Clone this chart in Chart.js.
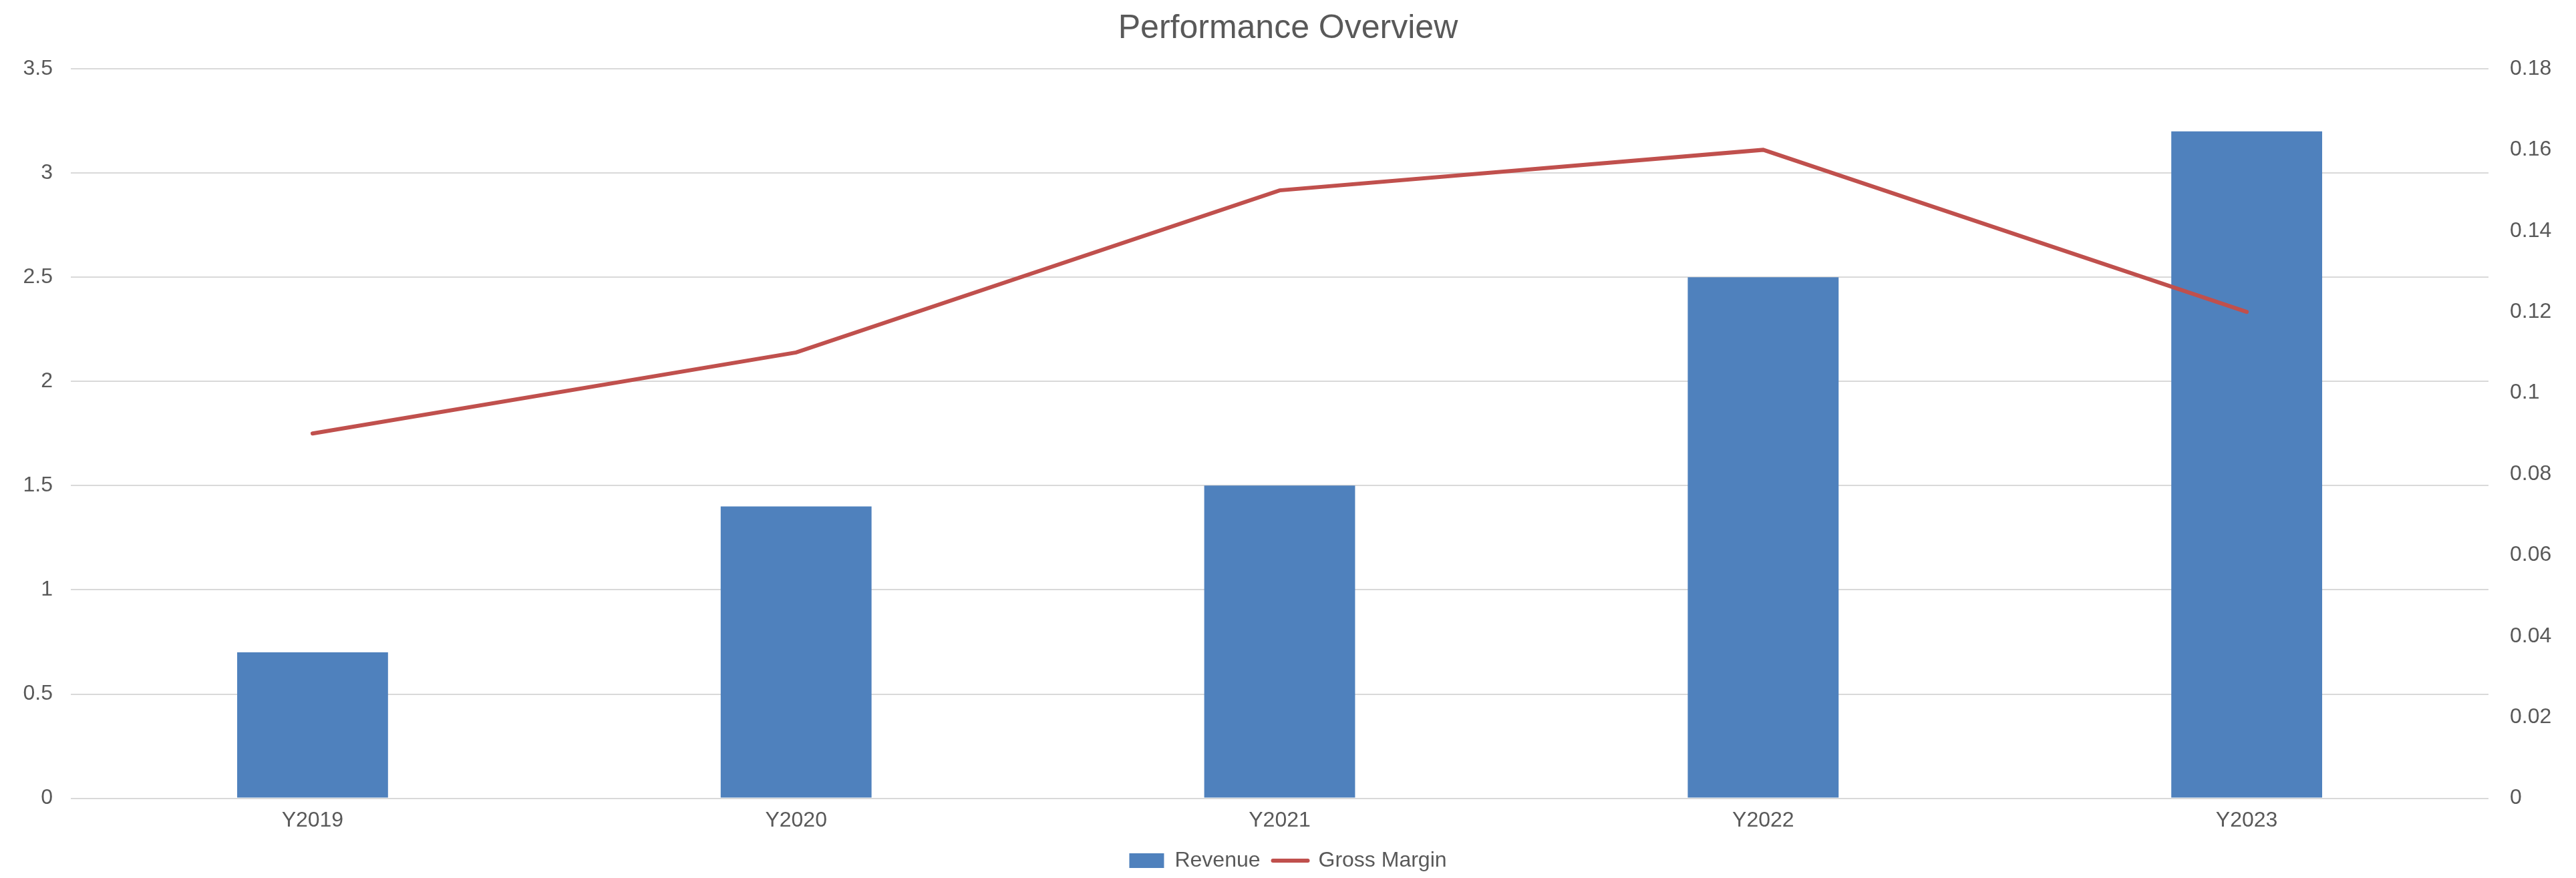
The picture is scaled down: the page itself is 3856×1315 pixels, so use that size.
<!DOCTYPE html>
<html>
<head>
<meta charset="utf-8">
<title>Performance Overview</title>
<script src="https://cdn.jsdelivr.net/npm/chart.js@4.4.1/dist/chart.umd.min.js"></script>
<style>
  html, body { margin: 0; padding: 0; background: #fff; }
  #wrap { width: 3856px; height: 1315px; }
</style>
</head>
<body>
<div id="wrap"><canvas id="chart" width="3856" height="1315"></canvas></div>
<script>
// данные графика
const years = ['Y2019', 'Y2020', 'Y2021', 'Y2022', 'Y2023'];
const revenue = [0.7, 1.4, 1.5, 2.5, 3.2];
const grossMargin = [0.09, 0.11, 0.15, 0.16, 0.12];

const textColor = '#595959';
const fontFamily = '"Liberation Sans", Arial, sans-serif';

const data = {
  labels: years,
  datasets: [{
    type: 'bar',
    label: 'Revenue',
    data: revenue,
    backgroundColor: '#4f81bd',
    borderWidth: 0,
    yAxisID: 'y',
    order: 1,
    categoryPercentage: 1,
    barPercentage: 0.312
  }, {
    type: 'line',
    label: 'Gross Margin',
    data: grossMargin,
    borderColor: '#c0504d',
    backgroundColor: '#c0504d',
    borderWidth: 6,
    borderCapStyle: 'round',
    pointRadius: 0,
    tension: 0,
    yAxisID: 'y1',
    order: 0
  }]
};

const config = {
  data: data,
  options: {
    responsive: false,
    animation: false,
    layout: { padding: { top: 13, bottom: 0, left: 0, right: 0 } },
    plugins: {
      title: {
        display: true,
        text: 'Performance Overview',
        color: textColor,
        font: { family: fontFamily, size: 50, weight: 'normal' },
        padding: { top: 0, bottom: 30 }
      },
      legend: {
        position: 'bottom',
        labels: {
          color: textColor,
          font: { family: fontFamily, size: 32, lineHeight: 1 },
          usePointStyle: true,
          pointStyleWidth: 52,
          boxHeight: 22,
          padding: 19,
          sort: (a, b) => a.datasetIndex - b.datasetIndex,
          generateLabels: function(chart) {
            return chart.data.datasets.map((ds, i) => ({
              text: ds.label,
              datasetIndex: i,
              fillStyle: ds.type === 'bar' ? ds.backgroundColor : ds.borderColor,
              strokeStyle: ds.type === 'bar' ? ds.backgroundColor : ds.borderColor,
              lineWidth: ds.type === 'bar' ? 0 : 6,
              lineCap: 'round',
              pointStyle: ds.type === 'bar' ? 'rect' : 'line',
              fontColor: textColor,
              hidden: false
            }));
          }
        }
      },
      tooltip: { enabled: false }
    },
    scales: {
      x: {
        grid: { display: false },
        border: { display: false },
        ticks: {
          color: textColor,
          font: { family: fontFamily, size: 32 },
          padding: 6
        }
      },
      y: {
        position: 'left',
        min: 0,
        max: 3.5,
        ticks: {
          stepSize: 0.5,
          color: textColor,
          font: { family: fontFamily, size: 32 },
          padding: 27,
          callback: v => String(Math.round(v * 10) / 10)
        },
        grid: { color: '#d9d9d9', lineWidth: 2, drawTicks: false },
        border: { display: false },
        afterFit: function(scale) { scale.width = 106; }
      },
      y1: {
        position: 'right',
        min: 0,
        max: 0.18,
        ticks: {
          stepSize: 0.02,
          color: textColor,
          font: { family: fontFamily, size: 32 },
          padding: 32,
          callback: v => String(Math.round(v * 100) / 100)
        },
        grid: { display: false, drawTicks: false },
        border: { display: false },
        afterFit: function(scale) { scale.width = 131; }
      }
    }
  }
};

const perfChart = new Chart(document.getElementById('chart'), config);
</script>
</body>
</html>
